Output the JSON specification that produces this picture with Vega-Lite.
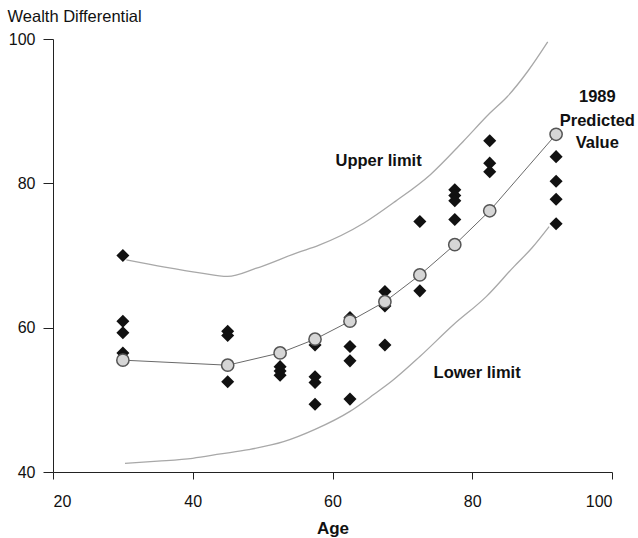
{
  "$schema": "https://vega.github.io/schema/vega-lite/v6.json",
  "width": 559,
  "height": 433,
  "autosize": {"type": "none"},
  "padding": {"left": 53, "top": 39, "right": 26, "bottom": 66},
  "background": "white",
  "config": {
    "view": {"stroke": null},
    "font": "Liberation Sans",
    "axis": {"grid": false, "domainColor": "#222", "tickColor": "#222", "labelColor": "#111", "titleColor": "#111", "labelFont": "Liberation Sans", "titleFont": "Liberation Sans"}
  },
  "datasets": {
    "pts": [
      {"age": 30, "value": 70.0, "series": "observed"},
      {"age": 30, "value": 60.9, "series": "observed"},
      {"age": 30, "value": 59.3, "series": "observed"},
      {"age": 30, "value": 56.5, "series": "observed"},
      {"age": 45, "value": 59.5, "series": "observed"},
      {"age": 45, "value": 58.9, "series": "observed"},
      {"age": 45, "value": 52.5, "series": "observed"},
      {"age": 52.5, "value": 54.6, "series": "observed"},
      {"age": 52.5, "value": 54.0, "series": "observed"},
      {"age": 52.5, "value": 53.4, "series": "observed"},
      {"age": 57.5, "value": 57.6, "series": "observed"},
      {"age": 57.5, "value": 53.2, "series": "observed"},
      {"age": 57.5, "value": 52.4, "series": "observed"},
      {"age": 57.5, "value": 49.4, "series": "observed"},
      {"age": 62.5, "value": 61.4, "series": "observed"},
      {"age": 62.5, "value": 57.4, "series": "observed"},
      {"age": 62.5, "value": 55.4, "series": "observed"},
      {"age": 62.5, "value": 50.1, "series": "observed"},
      {"age": 67.5, "value": 65.0, "series": "observed"},
      {"age": 67.5, "value": 63.0, "series": "observed"},
      {"age": 67.5, "value": 57.6, "series": "observed"},
      {"age": 72.5, "value": 74.7, "series": "observed"},
      {"age": 72.5, "value": 65.1, "series": "observed"},
      {"age": 77.5, "value": 79.1, "series": "observed"},
      {"age": 77.5, "value": 78.3, "series": "observed"},
      {"age": 77.5, "value": 77.6, "series": "observed"},
      {"age": 77.5, "value": 75.0, "series": "observed"},
      {"age": 82.5, "value": 85.9, "series": "observed"},
      {"age": 82.5, "value": 82.8, "series": "observed"},
      {"age": 82.5, "value": 81.6, "series": "observed"},
      {"age": 92, "value": 83.7, "series": "observed"},
      {"age": 92, "value": 80.3, "series": "observed"},
      {"age": 92, "value": 77.8, "series": "observed"},
      {"age": 92, "value": 74.4, "series": "observed"},
      {"age": 30, "value": 55.5, "series": "predicted"},
      {"age": 45, "value": 54.8, "series": "predicted"},
      {"age": 52.5, "value": 56.5, "series": "predicted"},
      {"age": 57.5, "value": 58.4, "series": "predicted"},
      {"age": 62.5, "value": 60.9, "series": "predicted"},
      {"age": 67.5, "value": 63.6, "series": "predicted"},
      {"age": 72.5, "value": 67.3, "series": "predicted"},
      {"age": 77.5, "value": 71.5, "series": "predicted"},
      {"age": 82.5, "value": 76.2, "series": "predicted"},
      {"age": 92, "value": 86.8, "series": "predicted"},
      {"age": 30.5, "value": 69.4, "series": "upper"},
      {"age": 36, "value": 68.4, "series": "upper"},
      {"age": 41, "value": 67.6, "series": "upper"},
      {"age": 45, "value": 67.1, "series": "upper"},
      {"age": 49, "value": 68.2, "series": "upper"},
      {"age": 55, "value": 70.4, "series": "upper"},
      {"age": 58, "value": 71.4, "series": "upper"},
      {"age": 64.5, "value": 74.5, "series": "upper"},
      {"age": 69, "value": 77.5, "series": "upper"},
      {"age": 74, "value": 81.2, "series": "upper"},
      {"age": 78.7, "value": 85.8, "series": "upper"},
      {"age": 82.5, "value": 89.7, "series": "upper"},
      {"age": 85, "value": 92.0, "series": "upper"},
      {"age": 88, "value": 95.6, "series": "upper"},
      {"age": 90.8, "value": 99.6, "series": "upper"},
      {"age": 30.3, "value": 41.2, "series": "lower"},
      {"age": 35, "value": 41.5, "series": "lower"},
      {"age": 40, "value": 41.9, "series": "lower"},
      {"age": 44, "value": 42.5, "series": "lower"},
      {"age": 48, "value": 43.1, "series": "lower"},
      {"age": 53, "value": 44.2, "series": "lower"},
      {"age": 57.5, "value": 45.9, "series": "lower"},
      {"age": 62.5, "value": 48.4, "series": "lower"},
      {"age": 66, "value": 50.8, "series": "lower"},
      {"age": 68.5, "value": 52.6, "series": "lower"},
      {"age": 72.5, "value": 56.0, "series": "lower"},
      {"age": 77.3, "value": 60.4, "series": "lower"},
      {"age": 82, "value": 64.3, "series": "lower"},
      {"age": 86, "value": 68.5, "series": "lower"},
      {"age": 88.5, "value": 71.0, "series": "lower"},
      {"age": 91, "value": 74.0, "series": "lower"}
    ],
    "labels": [
      {"age": 66.6, "value": 83.1, "text": "Upper limit"},
      {"age": 80.7, "value": 53.7, "text": "Lower limit"},
      {"age": 97.9, "value": 91.9, "text": "1989"},
      {"age": 97.9, "value": 88.7, "text": "Predicted"},
      {"age": 97.9, "value": 85.6, "text": "Value"}
    ]
  },
  "encoding": {
    "x": {
      "field": "age", "type": "quantitative",
      "scale": {"domain": [20, 100], "nice": false, "zero": false},
      "axis": {"values": [20, 40, 60, 80, 100], "title": "Age", "tickSize": 7, "labelFontSize": 16, "labelPadding": 14, "titleFontSize": 17, "titleFontWeight": "bold", "titleBaseline": "alphabetic", "titleY": 61}
    },
    "y": {
      "field": "value", "type": "quantitative",
      "scale": {"domain": [40, 100], "nice": false, "zero": false},
      "axis": {"values": [40, 60, 80, 100], "title": "Wealth Differential", "titleAngle": 0, "titleAlign": "left", "titleBaseline": "alphabetic", "titleX": -46, "titleY": -18, "titleFontSize": 16.5, "titleFontWeight": "normal", "tickSize": 10, "labelPadding": 8, "labelFontSize": 16}
    }
  },
  "layer": [
    {
      "data": {"name": "pts"},
      "transform": [{"filter": "datum.series === 'upper'"}],
      "mark": {"type": "line", "interpolate": "monotone", "color": "#a8a8a8", "strokeWidth": 1.3},
      "encoding": {"order": {"field": "age"}}
    },
    {
      "data": {"name": "pts"},
      "transform": [{"filter": "datum.series === 'lower'"}],
      "mark": {"type": "line", "interpolate": "monotone", "color": "#a8a8a8", "strokeWidth": 1.3},
      "encoding": {"order": {"field": "age"}}
    },
    {
      "data": {"name": "pts"},
      "transform": [{"filter": "datum.series === 'predicted'"}],
      "mark": {"type": "line", "color": "#6a6a6a", "strokeWidth": 1},
      "encoding": {"order": {"field": "age"}}
    },
    {
      "data": {"name": "pts"},
      "transform": [{"filter": "datum.series === 'observed'"}],
      "mark": {"type": "point", "shape": "diamond", "filled": true, "color": "#111", "size": 170, "opacity": 1}
    },
    {
      "data": {"name": "pts"},
      "transform": [{"filter": "datum.series === 'predicted'"}],
      "mark": {"type": "point", "shape": "circle", "filled": true, "fill": "#d6d6d6", "stroke": "#555", "strokeWidth": 1.5, "size": 150, "opacity": 1}
    },
    {
      "data": {"name": "labels"},
      "mark": {"type": "text", "font": "Liberation Sans", "fontWeight": "bold", "fontSize": 16.5, "color": "#111", "align": "center", "baseline": "middle"},
      "encoding": {"text": {"field": "text", "type": "nominal"}}
    }
  ]
}
